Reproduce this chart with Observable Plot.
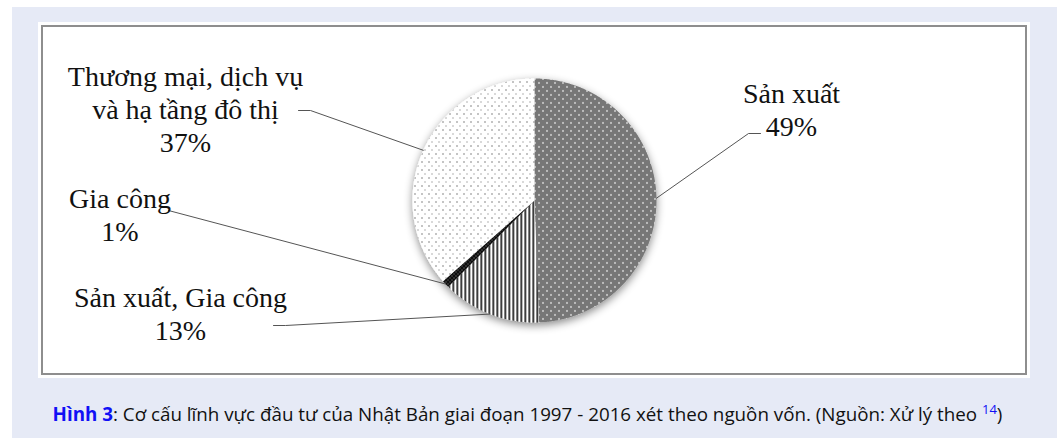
<!DOCTYPE html>
<html><head><meta charset="utf-8">
<script src="https://cdn.jsdelivr.net/npm/d3@7"></script>
<script src="https://cdn.jsdelivr.net/npm/@observablehq/plot@0.6"></script>
<style>
html,body{margin:0;padding:0;background:#fff;}
#page{position:relative;width:1060px;height:438px;overflow:hidden;}
#bg{position:absolute;left:12px;top:7px;width:1045px;height:431px;background:#e6eaf6;}
#box{position:absolute;left:38px;top:22px;width:992px;height:356px;background:#fff;}
#frame{position:absolute;left:41px;top:25px;width:986px;height:350px;box-sizing:border-box;border:2px solid #8e8e8e;}
#chart{position:absolute;left:0;top:0;}
#caption{position:absolute;left:5px;width:1045px;top:396px;line-height:26px;text-align:center;font-family:"Open Sans";font-size:18.8px;color:#111;white-space:nowrap;}
#caption b{color:#1010f5;}
#caption sup{color:#1010f5;font-size:13px;}
</style></head>
<body>
<div id="page">
  <div id="bg"></div>
  <div id="box"></div>
  <div id="frame"></div>
  <div id="chart"></div>
  <div id="caption"><b>Hình 3</b>: Cơ cấu lĩnh vực đầu tư của Nhật Bản giai đoạn 1997 - 2016 xét theo nguồn vốn. (Nguồn: Xử lý theo <sup>14</sup>)</div>
</div>
<script>
// ---- data ----
const categories = ["Sản xuất", "Sản xuất, Gia công", "Gia công", "Thương mại, dịch vụ và hạ tầng đô thị"];
const shares = [49.4, 13.1, 1.0, 36.5];
const percentLabels = ["49%", "13%", "1%", "37%"];
const labelLines = [["Sản xuất"], ["Sản xuất, Gia công"], ["Gia công"], ["Thương mại, dịch vụ", "và hạ tầng đô thị"]];

// ---- layout ----
const W = 1060, H = 380, CX = 534, CY = 200, R = 122;
const fills = ["url(#pSX)", "url(#pSXGC)", "url(#pGC)", "url(#pTM)"];
const labelPos = [{x: 791, y: 102}, {x: 180, y: 306}, {x: 119.5, y: 207}, {x: 185, y: 85}];
const lineGap = 33;
const leaderKnees = [[[748, 133], [760, 133]], [[285, 325], [273, 325]], [[168, 210]], [[310, 110], [298, 110]]];

const arcs = d3.pie().sort(null).value(d => d)(shares);
const pt = a => ({x: CX + R * Math.sin(a), y: CY - R * Math.cos(a)});

const slicePts = [];
arcs.forEach((arc, i) => {
  const cat = categories[i];
  slicePts.push({cat, x: CX, y: CY});
  const n = Math.max(2, Math.ceil((arc.endAngle - arc.startAngle) / (Math.PI / 360)));
  for (let k = 0; k <= n; k++) {
    const p = pt(arc.startAngle + (arc.endAngle - arc.startAngle) * k / n);
    slicePts.push({cat, x: p.x, y: p.y});
  }
});

const leaderPts = [];
arcs.forEach((arc, i) => {
  const p = pt((arc.startAngle + arc.endAngle) / 2);
  leaderPts.push({id: i, x: p.x, y: p.y});
  leaderKnees[i].forEach(([x, y]) => leaderPts.push({id: i, x, y}));
});

const textRows = [];
categories.forEach((c, i) => {
  [...labelLines[i], percentLabels[i]].forEach((t, j) => {
    textRows.push({text: t, x: labelPos[i].x, y: labelPos[i].y + j * lineGap});
  });
});

const svg = Plot.plot({
  width: W, height: H, margin: 0,
  x: {domain: [0, W], range: [0, W], axis: null},
  y: {domain: [0, H], range: [0, H], axis: null},
  color: {type: "ordinal", domain: categories, range: fills},
  style: {background: "transparent", overflow: "visible"},
  marks: [
    Plot.line(slicePts, {x: "x", y: "y", z: "cat", fill: "cat", stroke: "none", curve: "linear"}),
    Plot.line(leaderPts, {x: "x", y: "y", z: "id", stroke: "#555", strokeWidth: 1}),
    Plot.text(textRows, {x: "x", y: "y", text: "text", fontFamily: "Liberation Serif", fontSize: 28,
      textAnchor: "middle", lineAnchor: "bottom", fill: "#111"})
  ]
});

// patterns + shadow
const defs = d3.select(svg).insert("defs", ":first-child");
function pattern(id, w, h) {
  return defs.append("pattern").attr("id", id).attr("patternUnits", "userSpaceOnUse")
    .attr("x", 0).attr("y", 0).attr("width", w).attr("height", h);
}
function px(p, x, y, c, w = 1, h = 1) {
  p.append("rect").attr("x", x).attr("y", y).attr("width", w).attr("height", h).attr("fill", c);
}
let p = pattern("pSX", 8, 8);
px(p, 0, 0, "#eee", 8, 8);
for (let i = 0; i < 8; i++) for (let j = 0; j < 8; j++) if ((i + j) % 2 === 0) px(p, i, j, "#000");
px(p, 2, 1, "#fff", 1, 2); px(p, 6, 5, "#fff", 1, 2);

p = pattern("pSXGC", 4, 4);
px(p, 0, 0, "#fff", 4, 4);
px(p, 0, 0, "#000", 1, 4); px(p, 1, 0, "#777", 1, 4);

p = pattern("pGC", 4, 4);
px(p, 0, 0, "#111", 4, 4);
px(p, 1, 1, "#888"); px(p, 3, 3, "#888");

p = pattern("pTM", 7, 8);
px(p, 0, 0, "#fff", 7, 8);
px(p, 1, 1, "#111"); px(p, 4, 5, "#666");

const f = defs.append("filter").attr("id", "shadow")
  .attr("x", "-20%").attr("y", "-20%").attr("width", "140%").attr("height", "140%");
f.append("feDropShadow").attr("dx", 0).attr("dy", 3).attr("stdDeviation", 4)
  .attr("flood-color", "#000").attr("flood-opacity", 0.45);

const sliceGroup = svg.querySelector('g[aria-label="line"]');
if (sliceGroup) sliceGroup.setAttribute("filter", "url(#shadow)");

document.getElementById("chart").appendChild(svg);
</script>
</body></html>
